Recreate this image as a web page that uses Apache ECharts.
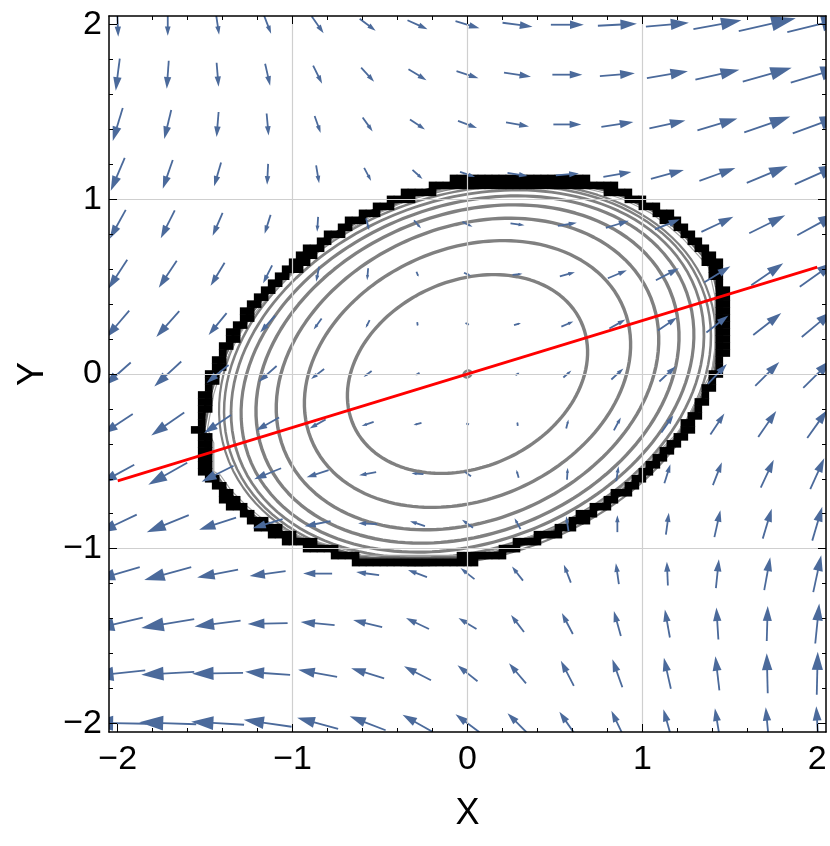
<!DOCTYPE html>
<html>
<head>
<meta charset="utf-8">
<script src="https://cdn.jsdelivr.net/npm/echarts@6/dist/echarts.min.js"></script>
<style>html,body{margin:0;padding:0;background:#fff;}#chart{width:830px;height:846px;}</style>
</head>
<body>
<div id="chart"></div>
<script>
// ---------- data ----------
const gridX = [-2, -1.714, -1.429, -1.143, -0.857, -0.571, -0.286, 0, 0.286, 0.571, 0.857, 1.143, 1.429, 1.714, 2];
const gridY = [2, 1.714, 1.429, 1.143, 0.857, 0.571, 0.286, 0, -0.286, -0.571, -0.857, -1.143, -1.429, -1.714, -2];
// arrow components (rows = gridY from top, cols = gridX), v positive upward
const arrowU = [
  [1, 0, 3, 7, 12, 16, 20, 24, 30, 33, 39, 43, 48, 57, 60],
  [-4, -2, 2, 5, 9, 13, 18, 22, 27, 30, 35, 41, 44, 49, 53],
  [-10, -7, -2, 2, 6, 10, 15, 19, 23, 28, 32, 36, 40, 46, 49],
  [-14, -10, -7, -1, 3, 7, 10, 15, 20, 23, 28, 33, 36, 41, 45],
  [-16, -14, -10, -6, -1, 3, 7, 10, 14, 19, 23, 25, 32, 36, 40],
  [-19, -18, -14, -9, -3, -1, 2, 7, 10, 15, 19, 23, 26, 32, 35],
  [-23, -23, -18, -15, -8, -4, 0.5, 4, 7, 12, 16, 19, 22, 28, 31],
  [-26, -27, -22, -18, -13, -8, -4, 0, 4, 8, 12, 16, 19, 24, 28],
  [-30, -33, -27, -23, -16, -12, -8, -3, -0.5, 2.3, 7, 12, 14, 18, 20],
  [-33, -39, -32, -27, -22, -17, -12, -7, -2.3, 0.7, 2.3, 6, 9, 13, 14],
  [-38, -42, -37, -30, -26, -19, -15, -11, -6, -2.3, 0, 3, 6, 9, 10],
  [-44, -47, -41, -36, -29, -23, -19, -14, -11, -7, -3, -1, 3, 6, 8],
  [-50, -53, -46, -40, -34, -29, -23, -18, -13, -11, -7, -5, -2, 1, 4],
  [-55, -53, -51, -45, -39, -33, -27, -20, -17, -13, -10, -7, -4, -1, 1],
  [-58, -57, -53, -48, -41, -36, -30, -24, -20, -16, -12, -8, -5, -3, -2]
];
const arrowV = [
  [-24, -22, -20, -18, -17, -12, -9, -7, -4, 0, 2, 4, 9, 13, 15],
  [-32, -28, -24, -22, -18, -14, -11, -7, -4, 0, 3, 7, 10, 14, 16],
  [-33, -29, -25, -22, -17, -14, -10, -7, -4, 0, 5, 8, 12, 16, 18],
  [-33, -29, -24, -21, -18, -13, -9, -5, -3, 2, 5, 9, 13, 17, 20],
  [-29, -28, -23, -19, -15, -12, -8, -5, -2, 3, 7, 10, 15, 18, 22],
  [-29, -27, -23, -18, -15, -12, -5, -3, 1, 4, 8, 12, 16, 22, 25],
  [-27, -26, -22, -17, -11, -8, -4, -2, 2, 5, 9, 13, 17, 22, 26],
  [-23, -25, -18, -16, -10, -6, -2.3, 0, 2.3, 7, 11, 15, 20, 24, 28],
  [-20, -23, -18, -13, -9, -4, -2.3, 1, 4, 9, 13, 17, 21, 26, 28],
  [-18, -22, -16, -11, -7, -3, 1, 5, 8, 12, 15, 19, 23, 28, 31],
  [-18, -17, -12, -9, -5, 1, 5, 8, 11, 15, 17, 22, 27, 30, 34],
  [-13, -13, -8, -5, 0, 3, 7, 11, 14, 18, 21, 24, 29, 33, 37],
  [-12, -9, -6, -1, 3, 7, 11, 11, 17, 21, 25, 28, 32, 35, 40],
  [-6, -3, -1, 3, 7, 10, 14, 16, 20, 25, 28, 31, 34, 40, 43],
  [1, 2, 3, 7, 11, 14, 17, 18, 20, 23, 25, 28, 30, 32, 34]
];
// level curves: intercept on the X axis, intercept on the Y axis, cross-term (tilt)
const contourXInt = [0.022, 0.67, 0.91, 1.067, 1.18, 1.263, 1.322, 1.364, 1.395];
const contourYInt = [0.019, 0.555, 0.745, 0.87, 0.945, 0.995, 1.03, 1.056, 1.076];
const contourTilt = [-0.22, -0.22, -0.22, -0.22, -0.22, -0.22, -0.21, -0.2, -0.19];
const contourWidth = [2.5, 3.4, 3.4, 3.4, 3.4, 3.2, 2.8, 2.5, 2.2];
// outer edge of the dark jagged boundary
const boundaryX = [-0.086, 0.686, 0.819, 0.933, 1.029, 1.105, 1.219, 1.295, 1.390, 1.448, 1.486, 1.486, 1.466, 1.409, 1.371, 1.333, 1.295, 1.257, 1.200, 1.143, 1.086, 1.029, 0.971, 0.895, 0.819, 0.723, 0.629, 0.533, 0.438, 0.343, 0.247, 0.114, -0.038, -0.638, -0.677, -0.848, -0.981, -1.114, -1.229, -1.324, -1.419, -1.486, -1.524, -1.524, -1.562, -1.524, -1.486, -1.410, -1.343, -1.286, -1.210, -1.095, -1.000, -0.924, -0.810, -0.677, -0.562, -0.448, -0.371, -0.238];
const boundaryY = [1.122, 1.122, 1.090, 1.051, 1.004, 0.966, 0.880, 0.813, 0.709, 0.642, 0.470, 0.156, 0.004, -0.091, -0.167, -0.244, -0.301, -0.358, -0.415, -0.472, -0.530, -0.587, -0.644, -0.710, -0.758, -0.815, -0.873, -0.920, -0.958, -0.987, -1.034, -1.073, -1.091, -1.091, -1.073, -1.025, -0.987, -0.930, -0.873, -0.796, -0.701, -0.606, -0.587, -0.415, -0.330, -0.120, 0.004, 0.166, 0.280, 0.356, 0.451, 0.566, 0.642, 0.718, 0.804, 0.890, 0.956, 1.004, 1.042, 1.080];
// red line
const lineX = [-2, 2];
const lineY = [-0.612, 0.612];
// axis ticks
const majorTicks = [-2, -1, 0, 1, 2];
const minorTicks = [-1.8, -1.6, -1.4, -1.2, -0.8, -0.6, -0.4, -0.2, 0.2, 0.4, 0.6, 0.8, 1.2, 1.4, 1.6, 1.8];
const gridValues = [-1, 0, 1];

// ---------- chart ----------
const ARROW_COLOR = '#4b6a9b';
const ARROW_SCALE = 1 / 175;
const FONT = "'Liberation Sans', Arial, Helvetica, sans-serif";
const fmt = v => (v < 0 ? '\u2212' + Math.abs(v) : String(v));

const arrowData = [];
for (let j = 0; j < gridY.length; j++) {
  for (let i = 0; i < gridX.length; i++) {
    arrowData.push([gridX[i], gridY[j], arrowU[j][i], arrowV[j][i]]);
  }
}
const contourData = contourXInt.map((p, k) => [p, contourYInt[k], contourTilt[k], contourWidth[k]]);

function renderArrow(params, api) {
  const x = api.value(0), y = api.value(1);
  const u = api.value(2) * ARROW_SCALE, v = api.value(3) * ARROW_SCALE;
  const t = api.coord([x - u / 2, y - v / 2]);
  const h = api.coord([x + u / 2, y + v / 2]);
  const dx = h[0] - t[0], dy = h[1] - t[1];
  const L = Math.hypot(dx, dy);
  if (L < 0.5) return null;
  const ux = dx / L, uy = dy / L;
  const hl = 0.42 * L, hw = 0.13 * L;
  const bx = h[0] - ux * hl, by = h[1] - uy * hl;
  return {
    type: 'group',
    children: [
      { type: 'line', shape: { x1: t[0], y1: t[1], x2: bx + ux, y2: by + uy },
        style: { stroke: ARROW_COLOR, lineWidth: 1.8 } },
      { type: 'polygon', shape: { points: [[h[0], h[1]], [bx - uy * hw, by + ux * hw], [bx + uy * hw, by - ux * hw]] },
        style: { fill: ARROW_COLOR } }
    ]
  };
}

function renderContour(params, api) {
  const p = api.value(0), q = api.value(1), r = api.value(2), w = api.value(3);
  const a = 1 / (p * p), c = 1 / (q * q), b = r * Math.sqrt(a * c);
  const pts = [];
  const N = 160;
  for (let k = 0; k <= N; k++) {
    const th = (k / N) * Math.PI * 2;
    const co = Math.cos(th), si = Math.sin(th);
    const rho = 1 / Math.sqrt(a * co * co + 2 * b * co * si + c * si * si);
    pts.push(api.coord([rho * co, rho * si]));
  }
  return { type: 'polyline', shape: { points: pts },
    style: { stroke: '#808080', lineWidth: w, fill: null, lineJoin: 'round' } };
}

function insidePoly(x, y, s) {
  let inside = false;
  const n = boundaryX.length;
  for (let i = 0, j = n - 1; i < n; j = i++) {
    const xi = boundaryX[i] * s, yi = boundaryY[i] * s, xj = boundaryX[j] * s, yj = boundaryY[j] * s;
    if (((yi > y) !== (yj > y)) && (x < (xj - xi) * (y - yi) / (yj - yi) + xi)) inside = !inside;
  }
  return inside;
}

function renderBoundary(params, api) {
  const n = boundaryX.length;
  const cell = 0.04, half = cell / 2, inner = 0.973;
  const children = [];
  const ring = (s) => {
    const pts = [];
    for (let k = 0; k <= n; k++) pts.push(api.coord([boundaryX[k % n] * s, boundaryY[k % n] * s]));
    return pts;
  };
  // soft grey fringe of crowded level curves, under the raster band
  children.push({ type: 'polyline', shape: { points: ring(0.952) }, style: { stroke: '#a0a0a0', lineWidth: 1.2, fill: null, lineJoin: 'round' } });
  children.push({ type: 'polyline', shape: { points: ring(0.963) }, style: { stroke: '#6a6a6a', lineWidth: 2.2, fill: null, lineJoin: 'round' } });
  children.push({ type: 'polyline', shape: { points: ring(0.974) }, style: { stroke: '#3a3a3a', lineWidth: 3.5, fill: null, lineJoin: 'round' } });
  for (let cx = -1.7 + half; cx < 1.7; cx += cell) {
    for (let cy = -1.3 + half; cy < 1.3; cy += cell) {
      if (!insidePoly(cx, cy, 1)) continue;
      const allIn = insidePoly(cx - half, cy - half, inner) && insidePoly(cx + half, cy - half, inner) &&
                    insidePoly(cx - half, cy + half, inner) && insidePoly(cx + half, cy + half, inner);
      if (allIn) continue;
      const p0 = api.coord([cx - half, cy + half]);
      const p1 = api.coord([cx + half, cy - half]);
      children.push({ type: 'rect', shape: { x: p0[0] - 0.3, y: p0[1] - 0.3, width: p1[0] - p0[0] + 0.6, height: p1[1] - p0[1] + 0.6 },
        style: { fill: '#000' } });
    }
  }
  return { type: 'group', children: children };
}

function makeAxis(dim, position, ticks, len, withLabel, withLine) {
  const ax = {
    type: 'value', gridIndex: 0, position: position, min: -2.05, max: 2.05, z: 10,
    axisLine: { show: withLine, onZero: false, lineStyle: { color: '#000', width: 1.5 } },
    axisTick: { show: true, inside: true, length: len, customValues: ticks, lineStyle: { color: '#000', width: 1 } },
    axisLabel: { show: false },
    splitLine: { show: false },
    nameMoveOverlap: false
  };
  if (withLabel) {
    ax.axisLabel = { show: true, customValues: ticks, formatter: fmt, color: '#000',
      fontSize: 34, fontFamily: FONT, margin: dim === 'x' ? 11 : 7 };
    ax.name = dim === 'x' ? 'X' : 'Y';
    ax.nameLocation = 'middle';
    ax.nameGap = dim === 'x' ? 64 : 58;
    ax.nameTextStyle = { fontSize: 36, fontFamily: FONT, color: '#000' };
  }
  return ax;
}

const chart = echarts.init(document.getElementById('chart'), null, { renderer: 'canvas' });
chart.setOption({
  animation: false,
  backgroundColor: '#fff',
  grid: { left: 109, right: 4, top: 16, bottom: 114, containLabel: false, outerBoundsMode: 'none' },
  xAxis: [
    makeAxis('x', 'bottom', majorTicks, 8, true, true),
    makeAxis('x', 'bottom', minorTicks, 4, false, false),
    makeAxis('x', 'top', majorTicks, 8, false, true),
    makeAxis('x', 'top', minorTicks, 4, false, false)
  ],
  yAxis: [
    makeAxis('y', 'left', majorTicks, 8, true, true),
    makeAxis('y', 'left', minorTicks, 4, false, false),
    makeAxis('y', 'right', majorTicks, 8, false, true),
    makeAxis('y', 'right', minorTicks, 4, false, false)
  ],
  series: [
    {
      type: 'line', xAxisIndex: 0, yAxisIndex: 0, data: [], silent: true, z: 1,
      markLine: {
        silent: true, symbol: ['none', 'none'], label: { show: false }, animation: false,
        lineStyle: { color: '#cfcfcf', width: 1.2, type: 'solid' },
        data: gridValues.map(v => ({ xAxis: v })).concat(gridValues.map(v => ({ yAxis: v })))
      }
    },
    { type: 'custom', xAxisIndex: 0, yAxisIndex: 0, renderItem: renderContour, data: contourData, clip: true, silent: true, z: 2 },
    { type: 'custom', xAxisIndex: 0, yAxisIndex: 0, renderItem: renderBoundary, data: [[0, 0]], clip: true, silent: true, z: 3 },
    { type: 'custom', xAxisIndex: 0, yAxisIndex: 0, renderItem: renderArrow, data: arrowData, clip: true, silent: true, z: 4 },
    {
      type: 'line', xAxisIndex: 0, yAxisIndex: 0, data: lineX.map((x, k) => [x, lineY[k]]),
      symbol: 'none', silent: true, z: 5, lineStyle: { color: '#ff0000', width: 2.8 }
    }
  ]
});
</script>
</body>
</html>
